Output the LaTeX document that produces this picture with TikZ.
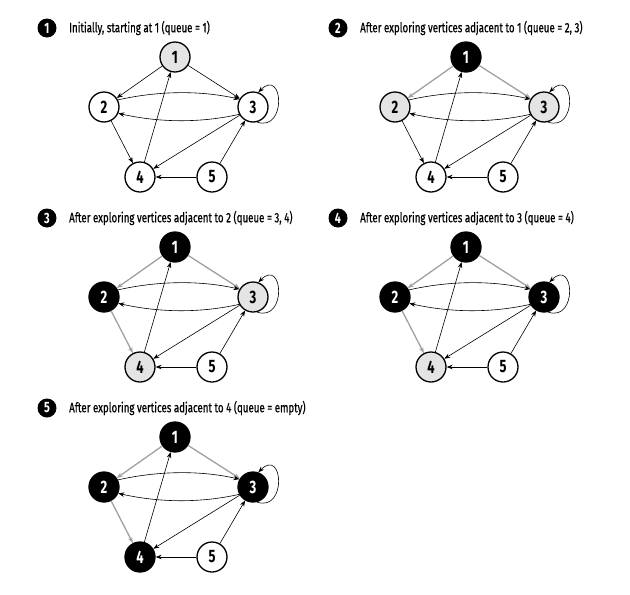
\documentclass[tikz,border=0pt]{standalone}
\usepackage{fontspec}
\setmainfont{Fira Sans}[FakeStretch=0.72, BoldFont={Fira Sans Bold}, BoldFeatures={FakeStretch=0.72}]
\newfontfamily\capfont{Fira Sans}[FakeStretch=0.72, FakeBold=0.6]
\usetikzlibrary{arrows.meta}

\definecolor{seengray}{HTML}{E4E4E4}
\definecolor{treegray}{HTML}{A0A0A0}

\tikzset{
  vertex/.style={circle, draw, line width=1.3pt, minimum size=30pt, inner sep=0pt,
    font=\bfseries\fontsize{18}{18}\selectfont},
  fresh/.style={vertex, fill=white},
  seen/.style={vertex, fill=seengray},
  done/.style={vertex, fill=black, text=white},
  arc/.style={->, black, line width=0.6pt},
  tree/.style={->, treegray, line width=1.3pt},
  bullet/.style={circle, fill=black, text=white, inner sep=0pt, minimum size=19pt,
    font=\bfseries\fontsize{15}{15}\selectfont},
  caption/.style={anchor=west, inner sep=0pt, font=\capfont\fontsize{13.5}{14}\selectfont},
  v1/.style=fresh, v2/.style=fresh, v3/.style=fresh, v4/.style=fresh,
  e12/.style=arc, e13/.style=arc, e24/.style=arc
}

% one step of the search: #1 name prefix, #2 step number, #3 caption
\newcommand{\bfspanel}[3]{%
  \node[bullet] (#1step) at (47,28) {#2};
  \node[caption] (#1title) at (69,28) {#3};
  \node[v1] (#1v1) at (175,57) {1};
  \node[v2] (#1v2) at (104,107) {2};
  \node[v3] (#1v3) at (253,107) {3};
  \node[v4] (#1v4) at (140,177) {4};
  \node[fresh] (#1v5) at (212,177) {5};
  \draw[e12] (#1v1) -- (#1v2);
  \draw[e13] (#1v1) -- (#1v3);
  \draw[e24] (#1v2) -- (#1v4);
  \draw[arc] (#1v2.27) .. controls +(40,-9) and +(-40,-9) .. (#1v3.150);
  \draw[arc] (#1v3.208) .. controls +(-40,9) and +(40,9) .. (#1v2.-24);
  \draw[arc] (#1v4) -- (#1v1);
  \draw[arc] (#1v3) -- (#1v4);
  \draw[arc] (#1v5) -- (#1v4);
  \draw[arc] (#1v5) -- (#1v3);
  \draw[arc] (#1v3.-75) .. controls +(30,10) and +(25,-25) .. (#1v3.70);
}

\begin{document}
\begin{tikzpicture}[x=1pt, y=-1pt, >={Stealth[length=6pt,width=4.5pt]}]
\useasboundingbox (0,0) rectangle (630,595);

% step 1
\begin{scope}[v1/.style=seen]
\bfspanel{a}{1}{Initially, starting at 1 (queue = 1)}
\end{scope}

% step 2
\begin{scope}[shift={(291,0)}, v1/.style=done, v2/.style=seen, v3/.style=seen,
  e12/.style=tree, e13/.style=tree]
\bfspanel{b}{2}{After exploring vertices adjacent to 1 (queue = 2, 3)}
\end{scope}

% step 3
\begin{scope}[shift={(0,190)}, v1/.style=done, v2/.style=done, v3/.style=seen, v4/.style=seen,
  e12/.style=tree, e13/.style=tree, e24/.style=tree]
\bfspanel{c}{3}{After exploring vertices adjacent to 2 (queue = 3, 4)}
\end{scope}

% step 4
\begin{scope}[shift={(291,190)}, v1/.style=done, v2/.style=done, v3/.style=done, v4/.style=seen,
  e12/.style=tree, e13/.style=tree, e24/.style=tree]
\bfspanel{d}{4}{After exploring vertices adjacent to 3 (queue = 4)}
\end{scope}

% step 5
\begin{scope}[shift={(0,380)}, v1/.style=done, v2/.style=done, v3/.style=done, v4/.style=done,
  e12/.style=tree, e13/.style=tree, e24/.style=tree]
\bfspanel{e}{5}{After exploring vertices adjacent to 4 (queue = empty)}
\end{scope}
\end{tikzpicture}
\end{document}
